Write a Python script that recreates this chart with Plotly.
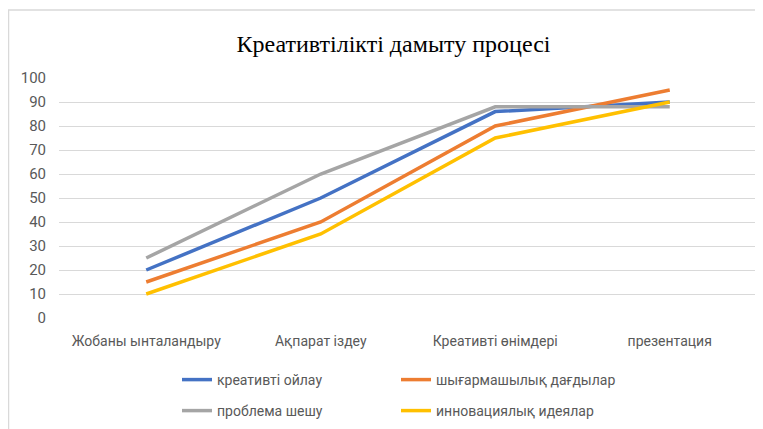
import plotly.graph_objects as go

categories = ["Жобаны ынталандыру", "Ақпарат іздеу", "Креативті өнімдері", "презентация"]
series_names = ["креативті ойлау", "шығармашылық дағдылар", "проблема шешу", "инновациялық идеялар"]
kreativti_oilau = [20, 50, 86, 90]
shygarmashylyk = [15, 40, 80, 95]
problema_sheshu = [25, 60, 88, 88]
innovatsiyalyk = [10, 35, 75, 90]
y_ticks = [0, 10, 20, 30, 40, 50, 60, 70, 80, 90, 100]

colors = ["#4472C4", "#ED7D31", "#A5A5A5", "#FFC000"]
values = [kreativti_oilau, shygarmashylyk, problema_sheshu, innovatsiyalyk]
legend_ids = ["legend", "legend2", "legend3", "legend4"]

# page body adds an 8px offset; figure coordinates below are already compensated
W, H = 763, 429
L, R, T, B = 51, 14, 70, 119
pw, ph = W - L - R, H - T - B

fig = go.Figure()
for name, vals, col, lg in zip(series_names, values, colors, legend_ids):
    fig.add_trace(go.Scatter(x=categories, y=vals, name=name, mode="lines",
                             line=dict(color=col, width=3.5), legend=lg))

def px_x(p):
    return (p - L) / pw

def px_y(p):
    return (H - B - p) / ph

font_x = dict(family="Roboto, Liberation Sans", size=14, color="#595959")
font_y = dict(family="Roboto, Liberation Sans", size=15, color="#595959")
font_leg = dict(family="Roboto, Liberation Sans", size=14, color="#595959")

# legend item positions (legend left edge, row centre) in figure pixels
leg_pos = [(169, 372), (388, 372), (169, 403), (388, 403)]
leg_layout = {}
for lg, (lx, ly) in zip(legend_ids, leg_pos):
    leg_layout[lg] = dict(orientation="h", x=px_x(lx), xanchor="left",
                          y=px_y(ly), yanchor="middle", font=font_leg,
                          bgcolor="rgba(0,0,0,0)", itemwidth=30)

fig.update_layout(
    template="none",
    width=W, height=H,
    margin=dict(l=L, r=R, t=T, b=B, autoexpand=False),
    paper_bgcolor="white", plot_bgcolor="white",
    title=dict(text="Креативтілікті дамыту процесі", x=385.5 / W, xanchor="center",
               y=1 - 36 / H, yanchor="middle",
               font=dict(family="Liberation Serif, Times New Roman, serif", size=24, color="#000000")),
    xaxis=dict(type="category", showgrid=False, showline=False, zeroline=False,
               automargin=False,
               ticks="outside", ticklen=10, tickcolor="rgba(0,0,0,0)",
               tickfont=font_x, range=[-0.5, 3.5]),
    yaxis=dict(range=[0, 100], tickvals=y_ticks, showgrid=True, gridcolor="#D9D9D9",
               gridwidth=1, zeroline=False, showline=False, automargin=False,
               ticks="outside", ticklen=9, tickcolor="rgba(0,0,0,0)",
               tickfont=font_y),
    showlegend=True,
    shapes=[dict(type="rect", xref="paper", yref="paper",
                 x0=px_x(0.5), x1=px_x(790), y0=px_y(450), y1=px_y(2),
                 line=dict(color="#D9D9D9", width=1.5), fillcolor="rgba(0,0,0,0)", layer="below")],
    **leg_layout,
)

fig.write_html("out.html")
